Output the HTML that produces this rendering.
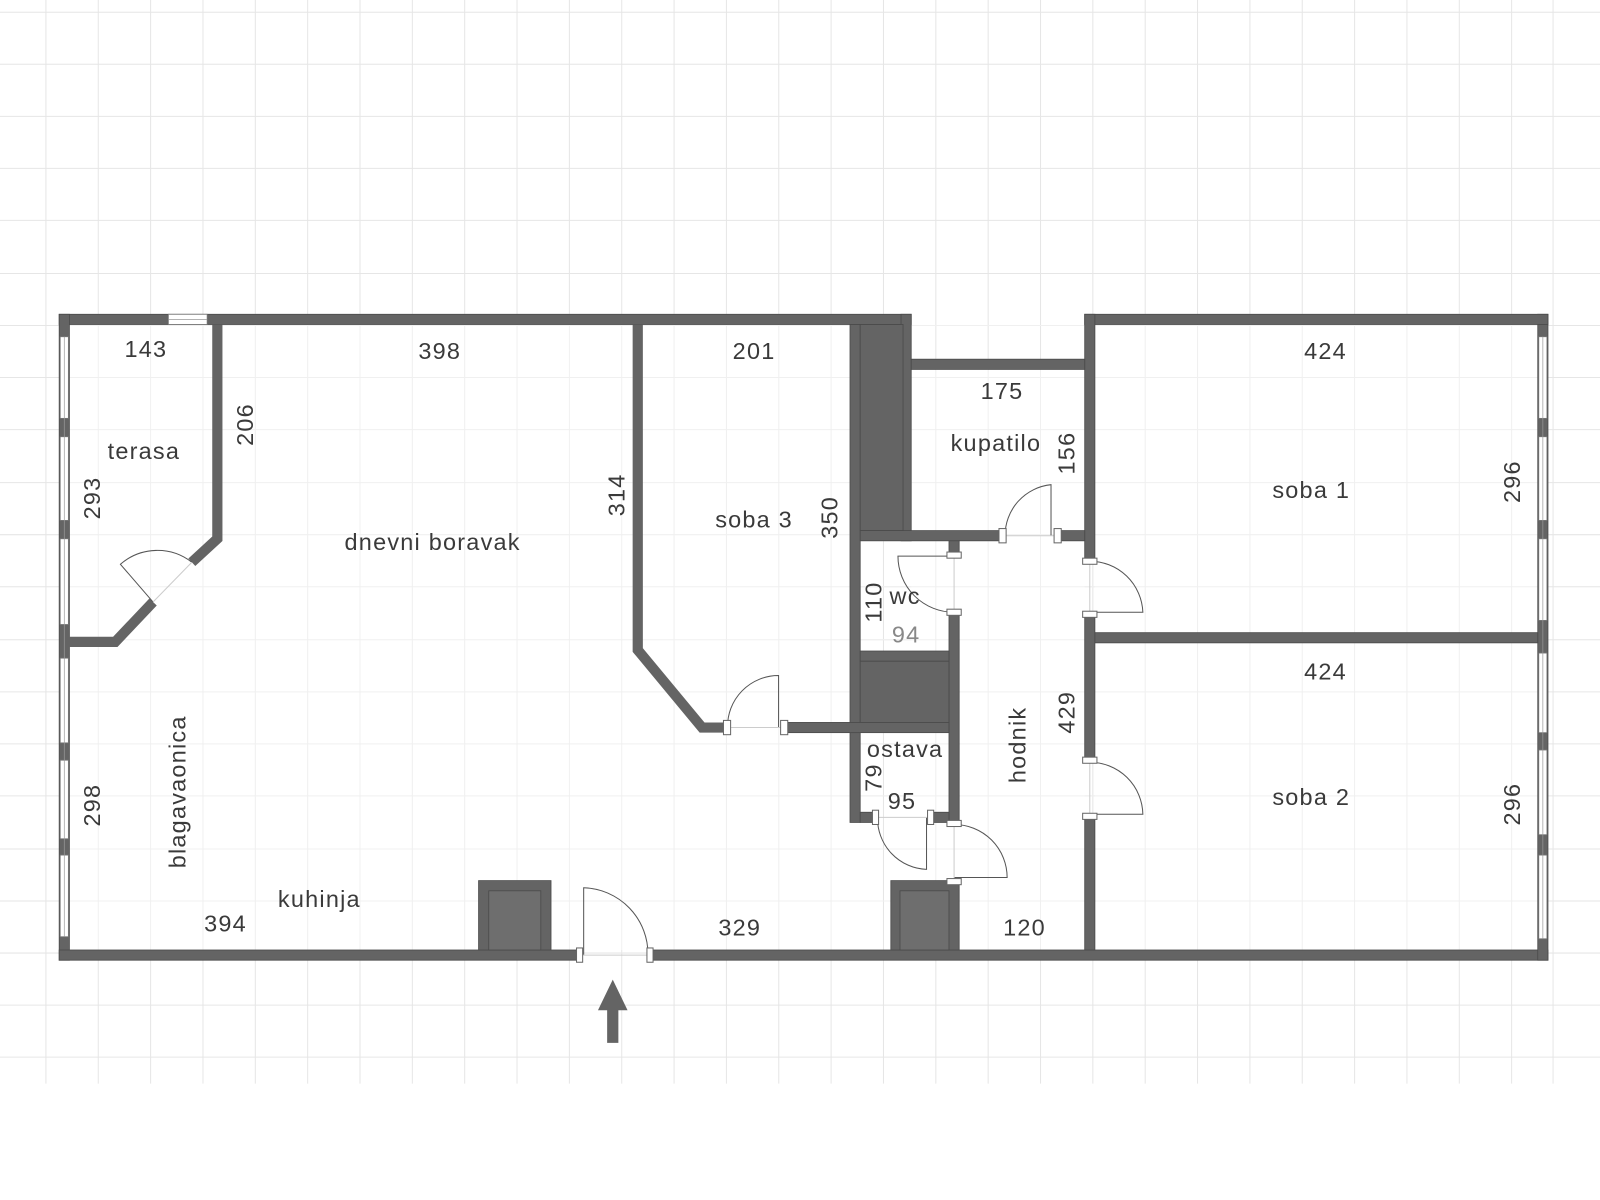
<!DOCTYPE html>
<html><head><meta charset="utf-8"><style>
html,body{margin:0;padding:0;background:#fff;}
svg{display:block;}
text{font-family:"Liberation Sans",sans-serif;font-size:23px;letter-spacing:1.2px;fill:#3a3a3a;text-anchor:middle;dominant-baseline:central;}
</style></head><body>
<svg width="1600" height="1200" viewBox="0 0 1568 1176" xmlns="http://www.w3.org/2000/svg">
<rect width="1568" height="1176" fill="#fff"/>
<g stroke="#e6e6e6" stroke-width="1">
<path d="M45 0V1062M96.3 0V1062M147.6 0V1062M198.9 0V1062M250.2 0V1062M301.5 0V1062M352.8 0V1062M404.1 0V1062M455.4 0V1062M506.7 0V1062M558 0V1062M609.3 0V1062M660.6 0V1062M711.9 0V1062M763.2 0V1062M814.5 0V1062M865.8 0V1062M917.1 0V1062M968.4 0V1062M1019.7 0V1062M1071 0V1062M1122.3 0V1062M1173.6 0V1062M1224.9 0V1062M1276.2 0V1062M1327.5 0V1062M1378.8 0V1062M1430.1 0V1062M1481.4 0V1062M1522 0V1062"/>
<path d="M0 12H1568M0 63H1568M0 114H1568M0 165H1568M0 216H1568M0 268H1568M0 319H1568M0 370H1568M0 421H1568M0 473H1568M0 524H1568M0 575H1568M0 627H1568M0 678H1568M0 729H1568M0 780H1568M0 832H1568M0 883H1568M0 934H1568M0 985H1568M0 1036H1568"/>
</g>
<g fill="#fff"><rect x="68" y="318" width="765" height="613"/><rect x="893" y="362" width="170" height="569"/><rect x="1073" y="318" width="434" height="613"/></g>
<g stroke="#f0f0f0" stroke-width="1">
<path d="M96.3 318V931M147.6 318V931M198.9 318V931M250.2 318V931M301.5 318V931M352.8 318V931M404.1 318V931M455.4 318V931M506.7 318V931M558 318V931M609.3 318V931M660.6 318V931M711.9 318V931M763.2 318V931M814.5 318V931M917.1 362V931M968.4 362V931M1019.7 362V931M1122.3 318V931M1173.6 318V931M1224.9 318V931M1276.2 318V931M1327.5 318V931M1378.8 318V931M1430.1 318V931M1481.4 318V931"/>
<path d="M68 319H1507M68 370H1507M68 421H1507M68 473H1507M68 524H1507M68 575H1507M68 627H1507M68 678H1507M68 729H1507M68 780H1507M68 832H1507M68 883H1507"/>
</g>
<g fill="#646464" stroke="#4a4a4a" stroke-width="0.8">
<rect x="58" y="308" width="835" height="10"/>
<rect x="58" y="308" width="10" height="633"/>
<rect x="58" y="931" width="510" height="10"/>
<rect x="638" y="931" width="879" height="10"/>
<rect x="1507" y="308" width="10" height="633"/>
<rect x="1063" y="308" width="454" height="10"/>
<rect x="1063" y="308" width="10" height="242"/>
<rect x="1063" y="602" width="10" height="143"/>
<rect x="1063" y="800" width="10" height="131"/>
<rect x="1073" y="620" width="434" height="10"/>
<rect x="883" y="308" width="10" height="222"/>
<rect x="893" y="352" width="170" height="10"/>
<rect x="833" y="318" width="10" height="488"/>
<rect x="843" y="318" width="42" height="202"/>
<rect x="843" y="520" width="142" height="10"/>
<rect x="1035" y="520" width="28" height="10"/>
<rect x="930" y="530" width="10" height="15"/>
<rect x="930" y="600" width="10" height="206"/>
<rect x="843" y="638" width="87" height="10"/>
<rect x="843" y="648" width="87" height="60"/>
<rect x="768" y="708" width="162" height="10"/>
<rect x="843" y="796" width="14" height="10"/>
<rect x="912" y="796" width="18" height="10"/>
<rect x="469" y="863" width="71" height="68"/>
<rect x="873" y="863" width="67" height="68"/>
</g>
<g fill="#6e6e6e" stroke="#4a4a4a" stroke-width="0.8">
<rect x="479" y="873" width="51" height="58"/><rect x="882" y="873" width="48" height="58"/>
</g>
<g fill="none" stroke="#646464" stroke-width="10" stroke-linejoin="miter">
<polyline points="213,318 213,528 188,551"/>
<polyline points="150,590 113,629 63,629"/>
<polyline points="625,318 625,637 688,713 713,713"/>
</g>
<g fill="#fff" stroke="#777" stroke-width="0.8">
<rect x="165" y="308" width="38" height="10"/>
<rect x="59" y="330" width="8" height="80"/><rect x="59" y="428" width="8" height="82"/><rect x="59" y="528" width="8" height="84"/>
<rect x="59" y="645" width="8" height="83"/><rect x="59" y="745" width="8" height="77"/><rect x="59" y="838" width="8" height="80"/>
<rect x="1508" y="330" width="8" height="80"/><rect x="1508" y="428" width="8" height="82"/><rect x="1508" y="528" width="8" height="80"/>
<rect x="1508" y="640" width="8" height="78"/><rect x="1508" y="735" width="8" height="83"/><rect x="1508" y="838" width="8" height="82"/>
</g>
<g stroke="#999" stroke-width="0.7"><line x1="165" y1="313" x2="203" y2="313"/><line x1="63" y1="330" x2="63" y2="918"/><line x1="1512" y1="330" x2="1512" y2="920"/></g>
<g fill="none" stroke="#555" stroke-width="1">
<path d="M150 590 L118 553 A55 55 0 0 1 188 551"/>
<path d="M763 713 V662 A50 50 0 0 0 713 713"/>
<path d="M1030 525 V475 A50 50 0 0 0 985 525"/>
<path d="M935 545 H880 A55 55 0 0 0 935 600"/>
<path d="M1068 600 H1120 A52 52 0 0 0 1068 550"/>
<path d="M1068 798 H1120 A52 52 0 0 0 1068 747"/>
<path d="M908 801 V852 A50 50 0 0 1 860 801"/>
<path d="M935 860 H987 A52 52 0 0 0 935 808"/>
<path d="M572 936 V870 A65 65 0 0 1 635 936"/>
</g>
<g stroke="#ccc" stroke-width="1"><line x1="150" y1="590" x2="188" y2="551"/><line x1="716" y1="713" x2="765" y2="713"/><line x1="986" y1="525" x2="1033" y2="525"/><line x1="935" y1="547" x2="935" y2="597"/><line x1="1068" y1="553" x2="1068" y2="599"/><line x1="1068" y1="748" x2="1068" y2="797"/><line x1="861" y1="801" x2="909" y2="801"/><line x1="935" y1="810" x2="935" y2="861"/><line x1="571" y1="936" x2="634" y2="936"/></g>
<g fill="#fff" stroke="#666" stroke-width="1">
<rect x="709" y="706" width="7" height="14"/><rect x="765" y="706" width="7" height="14"/>
<rect x="979" y="518" width="7" height="14"/><rect x="1033" y="518" width="7" height="14"/>
<rect x="928" y="541" width="14" height="6"/><rect x="928" y="597" width="14" height="6"/>
<rect x="1061" y="547" width="14" height="6"/><rect x="1061" y="599" width="14" height="6"/>
<rect x="1061" y="742" width="14" height="6"/><rect x="1061" y="797" width="14" height="6"/>
<rect x="855" y="794" width="6" height="14"/><rect x="909" y="794" width="6" height="14"/>
<rect x="928" y="804" width="14" height="6"/><rect x="928" y="861" width="14" height="6"/>
<rect x="565" y="929" width="6" height="14"/><rect x="634" y="929" width="6" height="14"/>
</g>
<path d="M595 1022 V990 H586 L600.5 960 L615 990 H606 V1022 Z" fill="#646464"/>
<text x="143" y="342">143</text>
<text x="431" y="344">398</text>
<text x="739" y="344">201</text>
<text x="982" y="383">175</text>
<text x="1299" y="344">424</text>
<text x="1299" y="658">424</text>
<text x="141" y="442">terasa</text>
<text x="424" y="531">dnevni boravak</text>
<text x="739" y="509">soba 3</text>
<text x="976" y="434">kupatilo</text>
<text x="1285" y="480">soba 1</text>
<text x="1285" y="781">soba 2</text>
<text x="887" y="584">wc</text>
<text x="888" y="622" style="fill:#888">94</text>
<text x="887" y="734">ostava</text>
<text x="884" y="785">95</text>
<text x="313" y="881">kuhinja</text>
<text x="221" y="905">394</text>
<text x="725" y="909">329</text>
<text x="1004" y="909">120</text>
<text transform="translate(240,416) rotate(-90)">206</text>
<text transform="translate(90,488) rotate(-90)">293</text>
<text transform="translate(604,485) rotate(-90)">314</text>
<text transform="translate(813,507) rotate(-90)">350</text>
<text transform="translate(1045,444) rotate(-90)">156</text>
<text transform="translate(856,590) rotate(-90)">110</text>
<text transform="translate(1045,698) rotate(-90)">429</text>
<text transform="translate(997,730) rotate(-90)">hodnik</text>
<text transform="translate(856,762) rotate(-90)">79</text>
<text transform="translate(174,776) rotate(-90)">blagavaonica</text>
<text transform="translate(90,789) rotate(-90)">298</text>
<text transform="translate(1482,472) rotate(-90)">296</text>
<text transform="translate(1482,788) rotate(-90)">296</text>
</svg>
</body></html>
